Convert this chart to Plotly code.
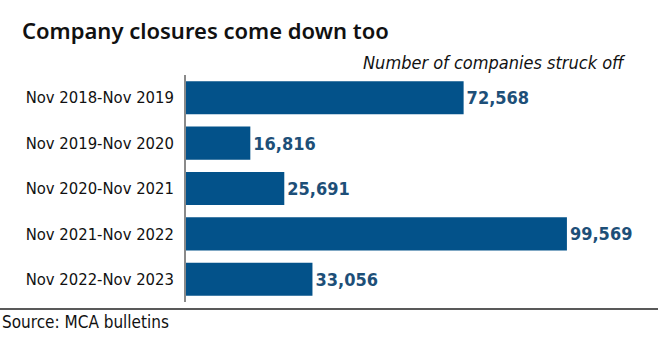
import plotly.graph_objects as go

# Companies struck off the register, year to November
periods = [
    "Nov 2018-Nov 2019",
    "Nov 2019-Nov 2020",
    "Nov 2020-Nov 2021",
    "Nov 2021-Nov 2022",
    "Nov 2022-Nov 2023",
]
struck_off = [72568, 16816, 25691, 99569, 33056]

BAR_COLOR = "#03528a"
LABEL_COLOR = "#1d4f78"
FONT = "DejaVu Sans Condensed, Roboto, sans-serif"

W, H = 660, 344
L, R, T, B = 186, 0, 75, 42

fig = go.Figure(
    go.Bar(
        y=periods,
        x=struck_off,
        orientation="h",
        marker=dict(color=BAR_COLOR, line=dict(width=0)),
        text=[f"{v:,}" for v in struck_off],
        textposition="outside",
        textfont=dict(color=LABEL_COLOR, size=18, family=FONT, weight="bold"),
        cliponaxis=False,
        hoverinfo="skip",
    )
)

fig.update_layout(
    width=W,
    height=H,
    margin=dict(l=L, r=R, t=T, b=B),
    paper_bgcolor="white",
    plot_bgcolor="white",
    bargap=0.27,
    showlegend=False,
    font=dict(family=FONT, color="#111111"),
    title=dict(
        text="Company closures come down too",
        font=dict(size=22, family="Noto Sans, sans-serif", color="#111111", weight=600),
        xref="container",
        yref="container",
        x=22 / W,
        xanchor="left",
        y=1 - 31 / H,
        yanchor="middle",
    ),
    xaxis=dict(
        range=[0, 123900],
        visible=False,
        fixedrange=True,
    ),
    yaxis=dict(
        autorange="reversed",
        showline=True,
        linecolor="#8a8a8a",
        linewidth=1.5,
        showgrid=False,
        ticks="outside",
        ticklen=7,
        tickcolor="rgba(0,0,0,0)",
        tickfont=dict(size=16.5, family=FONT, color="#111111"),
        fixedrange=True,
    ),
)

plot_w = W - L - R
plot_h = H - T - B

# subtitle, right-aligned above the bars
fig.add_annotation(
    text="<i>Number of companies struck off</i>",
    xref="paper", yref="paper",
    x=(628 - L) / plot_w, xanchor="right",
    y=1 + (T - 62) / plot_h, yanchor="middle",
    showarrow=False,
    font=dict(size=18, family=FONT, color="#111111"),
)

# rule across the full width above the source line
fig.add_shape(
    type="line",
    xref="paper", yref="paper",
    x0=-L / plot_w, x1=(W - 2 - L) / plot_w,
    y0=-(309 - (H - B)) / plot_h, y1=-(309 - (H - B)) / plot_h,
    line=dict(color="#222222", width=1.5),
)

fig.add_annotation(
    text="Source: MCA bulletins",
    xref="paper", yref="paper",
    x=-L / plot_w, xanchor="left",
    y=-(322 - (H - B)) / plot_h, yanchor="middle",
    showarrow=False,
    font=dict(size=17, family=FONT, color="#111111"),
)

fig.write_html("out.html")
